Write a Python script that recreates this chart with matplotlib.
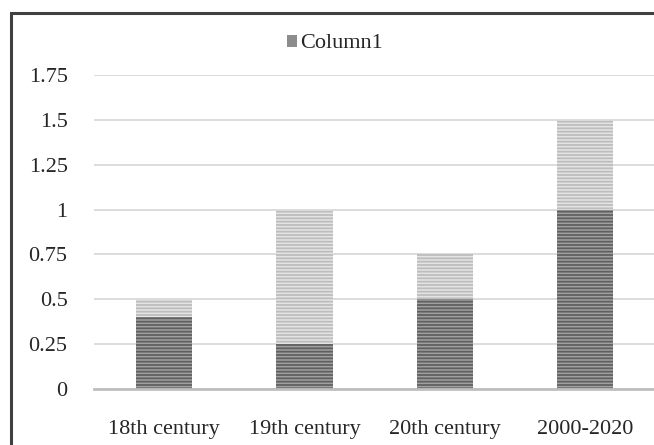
import matplotlib
matplotlib.use("Agg")
import matplotlib.pyplot as plt
from matplotlib.patches import Patch, Rectangle

categories = ["18th century", "19th century", "20th century", "2000-2020"]
lower_values = [0.4, 0.25, 0.5, 1.0]
upper_values = [0.1, 0.75, 0.25, 0.5]
y_ticks = [0, 0.25, 0.5, 0.75, 1, 1.25, 1.5, 1.75]
y_tick_labels = ["0", "0.25", "0.5", "0.75", "1", "1.25", "1.5", "1.75"]
legend_label = "Column1"

plt.rcParams["font.family"] = ["Liberation Serif", "DejaVu Serif"]
plt.rcParams["hatch.linewidth"] = 1.3

W, H = 654, 445
fig = plt.figure(figsize=(W / 100, H / 100), dpi=100)

# outer chart border
fig.patches.append(Rectangle((11 / W, -0.2), 1.2, (H - 13) / H + 0.2,
                             transform=fig.transFigure, fill=False,
                             edgecolor="#404040", linewidth=2.2, zorder=0))

ax = fig.add_axes([94 / W, 56 / H, (W - 94) / W + 0.002, (389 - 75) / H])

x = list(range(len(categories)))
ax.bar(x, lower_values, width=0.4, color="#a0a0a0", edgecolor="#606060",
       hatch="-----", linewidth=0, zorder=3)
ax.bar(x, upper_values, width=0.4, bottom=lower_values, color="#e4e4e4",
       edgecolor="#bdbdbd", hatch="-----", linewidth=0, zorder=3)

ax.set_xlim(-0.5, len(categories) - 0.5)
ax.set_ylim(0, 1.75)
ax.set_yticks(y_ticks)
ax.set_yticklabels(y_tick_labels)
ax.set_xticks(x)
ax.set_xticklabels(categories)

ax.yaxis.grid(True, color="#d9d9d9", linewidth=1.3, zorder=0)
ax.set_axisbelow(True)
for side in ("top", "right", "left"):
    ax.spines[side].set_visible(False)
ax.spines["bottom"].set_color("#bfbfbf")
ax.spines["bottom"].set_linewidth(2.0)
ax.spines["bottom"].set_zorder(4)

ax.tick_params(axis="both", length=0, labelsize=16, colors="#262626")
ax.tick_params(axis="y", pad=19)
ax.tick_params(axis="x", pad=22.5)
ax.patch.set_alpha(0)

handle = Patch(facecolor="#8c8c8c", edgecolor="none")
fig.legend([handle], [legend_label], loc="center left",
           bbox_to_anchor=(267 / W, 1 - 44 / H), frameon=False,
           fontsize=16, handlelength=0.45, handleheight=0.45,
           handletextpad=0.15, labelcolor="#262626")

fig.savefig("out.png", dpi=100)
